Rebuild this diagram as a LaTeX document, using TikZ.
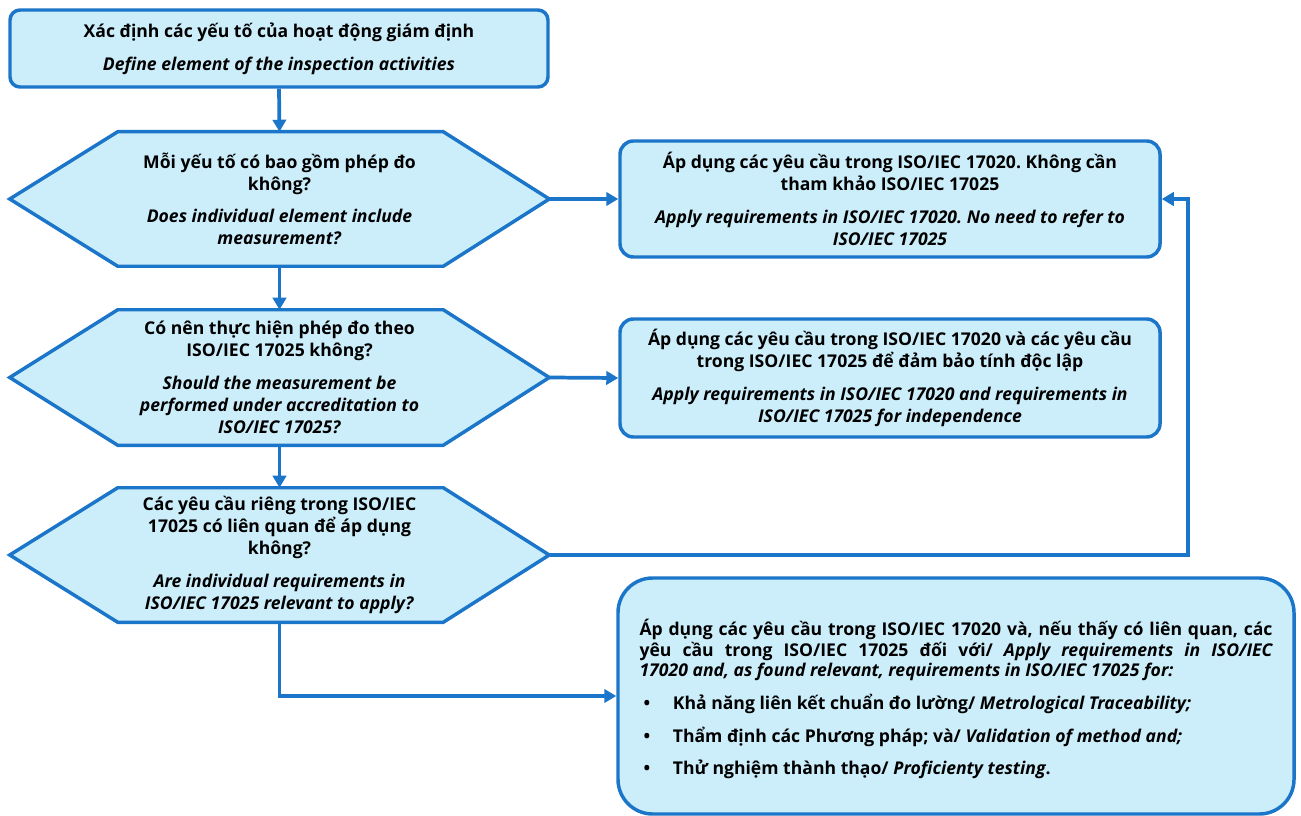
\documentclass[tikz,border=0pt]{standalone}
\usepackage{fontspec}
\setmainfont{Open Sans}
\usetikzlibrary{arrows.meta,backgrounds,calc}
\definecolor{bord}{HTML}{1B75C8}
\definecolor{fillb}{HTML}{CCEEFB}
\frenchspacing
\begin{document}
\begin{tikzpicture}[x=0.75pt,y=-0.75pt,
  every node/.style={font=\fontsize{13.2}{16.5}\selectfont\bfseries\frenchspacing},
  rbox/.style={draw=bord, fill=fillb, line width=2.6pt, rounded corners=10pt, align=center, inner sep=0pt},
  hexnode/.style={align=center, inner sep=0pt, minimum width={539*0.75pt}},
  hexline/.style={draw=bord, fill=fillb, line width=2.6pt, line join=miter},
  conn/.style={draw=bord, line width=2.8pt, -{Triangle[length=9pt,width=10pt]}},
]
\useasboundingbox (0,0) rectangle (1301,816);

\node[rbox, rounded corners=7.5pt, minimum width={538*0.75pt}, minimum height={77*0.75pt}] (top) at (279,48.5)
  {Xác định các yếu tố của hoạt động giám định\\[8pt]\textit{Define element of the inspection activities}};

\node[hexnode, minimum height={134*0.75pt}] (d1) at (279.5,199)
  {Mỗi yếu tố có bao gồm phép đo\\ không?\\[8pt]\textit{Does individual element include}\\ \textit{measurement?}};
\node[hexnode, minimum height={135*0.75pt}] (d2) at (279.5,377.5)
  {Có nên thực hiện phép đo theo\\ ISO/IEC 17025 không?\\[8pt]\textit{Should the measurement be}\\ \textit{performed under accreditation to}\\ \textit{ISO/IEC 17025?}};
\node[hexnode, minimum height={134*0.75pt}] (d3) at (279.5,555)
  {Các yêu cầu riêng trong ISO/IEC\\ 17025 có liên quan để áp dụng\\ không?\\[8pt]\textit{Are individual requirements in}\\ \textit{ISO/IEC 17025 relevant to apply?}};

\begin{scope}[on background layer]
\foreach \d in {d1,d2,d3}{
  \path[hexline] (\d.west) -- ([xshift={108*0.75pt}]\d.north west) -- ([xshift={-106*0.75pt}]\d.north east)
    -- (\d.east) -- ([xshift={-106*0.75pt}]\d.south east) -- ([xshift={108*0.75pt}]\d.south west) -- cycle;
}
\end{scope}

\node[rbox, minimum width={540*0.75pt}, minimum height={116*0.75pt}] (b1) at (890,199)
  {Áp dụng các yêu cầu trong ISO/IEC 17020. Không cần\\ tham khảo ISO/IEC 17025\\[8pt]\textit{Apply requirements in ISO/IEC 17020. No need to refer to}\\ \textit{ISO/IEC 17025}};
\node[rbox, minimum width={540*0.75pt}, minimum height={118*0.75pt}] (b2) at (890,378)
  {Áp dụng các yêu cầu trong ISO/IEC 17020 và các yêu cầu\\ trong ISO/IEC 17025 để đảm bảo tính độc lập\\[8pt]\textit{Apply requirements in ISO/IEC 17020 and requirements in}\\ \textit{ISO/IEC 17025 for independence}};
\node[rbox, rounded corners=26pt, align=justify, text width={633*0.75pt}, minimum width={676*0.75pt}, minimum height={236*0.75pt},
  font=\fontsize{13.2}{15.4}\selectfont\bfseries\frenchspacing] (b3) at (956,696)
  {\rule{0pt}{17pt}Áp dụng các yêu cầu trong ISO/IEC 17020 và, nếu thấy có liên quan, các\linebreak
   yêu cầu trong ISO/IEC 17025 đối với/ \textit{Apply requirements in ISO/IEC\linebreak
   17020 and, as found relevant, requirements in ISO/IEC 17025 for:}\\[9.5pt]
   \hspace*{3pt}\makebox[22pt][l]{•}Khả năng liên kết chuẩn đo lường/ \textit{Metrological Traceability;}\\[9pt]
   \hspace*{3pt}\makebox[22pt][l]{•}Thẩm định các Phương pháp; và/ \textit{Validation of method and;}\\[9pt]
   \hspace*{3pt}\makebox[22pt][l]{•}Thử nghiệm thành thạo/ \textit{Proficienty testing}.};

\coordinate (loop) at (1188,199);

\draw[conn] (top.south) -- (d1.north);
\draw[conn] (d1.south) -- (d2.north);
\draw[conn] (d2.south) -- (d3.north);
\draw[conn] (d1.east) -- (b1.west);
\draw[conn] (d2.east) -- (b2.west);
\draw[conn] (d3.east) -| (loop) -- (b1.east);
\draw[conn] (d3.south) |- (b3.west);
\end{tikzpicture}
\end{document}
